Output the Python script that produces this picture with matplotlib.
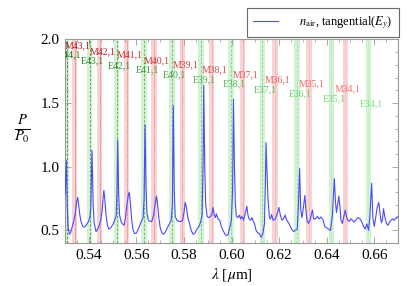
import numpy as np
import matplotlib
matplotlib.use("Agg")
import matplotlib.pyplot as plt
from matplotlib.colors import to_rgb

plt.rcParams["font.family"] = ["Liberation Serif", "DejaVu Serif"]
plt.rcParams["mathtext.fontset"] = "stix"

# spectrum (wavelength in um, P/P0)
wavelength = [
    0.5300, 0.5305, 0.5309, 0.5313, 0.5318, 0.5323, 0.5330, 0.5337, 0.5342, 0.5348,
    0.5353, 0.5357, 0.5362, 0.5368, 0.5375, 0.5382, 0.5390, 0.5398, 0.5404, 0.5408,
    0.5413, 0.5418, 0.5422, 0.5430, 0.5440, 0.5450, 0.5456, 0.5460, 0.5463, 0.5467,
    0.5472, 0.5478, 0.5484, 0.5492, 0.5502, 0.5510, 0.5515, 0.5518, 0.5521, 0.5525,
    0.5529, 0.5536, 0.5542, 0.5548, 0.5554, 0.5560, 0.5566, 0.5570, 0.5575, 0.5580,
    0.5586, 0.5592, 0.5600, 0.5610, 0.5620, 0.5628, 0.5632, 0.5636, 0.5640, 0.5644,
    0.5650, 0.5658, 0.5664, 0.5672, 0.5678, 0.5684, 0.5688, 0.5694, 0.5700, 0.5707,
    0.5714, 0.5722, 0.5730, 0.5738, 0.5746, 0.5751, 0.5755, 0.5759, 0.5763, 0.5770,
    0.5778, 0.5786, 0.5794, 0.5800, 0.5805, 0.5810, 0.5816, 0.5822, 0.5830, 0.5838,
    0.5846, 0.5854, 0.5862, 0.5870, 0.5876, 0.5880, 0.5883, 0.5887, 0.5891, 0.5897,
    0.5904, 0.5912, 0.5917, 0.5922, 0.5927, 0.5932, 0.5936, 0.5943, 0.5950, 0.5957,
    0.5964, 0.5971, 0.5978, 0.5985, 0.5992, 0.5999, 0.6004, 0.6008, 0.6012, 0.6016,
    0.6020, 0.6027, 0.6033, 0.6038, 0.6044, 0.6050, 0.6056, 0.6064, 0.6069, 0.6074,
    0.6080, 0.6086, 0.6091, 0.6096, 0.6103, 0.6110, 0.6117, 0.6124, 0.6131, 0.6138,
    0.6142, 0.6145, 0.6149, 0.6153, 0.6159, 0.6164, 0.6168, 0.6175, 0.6184, 0.6192,
    0.6199, 0.6205, 0.6212, 0.6218, 0.6225, 0.6232, 0.6241, 0.6251, 0.6260, 0.6268,
    0.6276, 0.6281, 0.6286, 0.6291, 0.6296, 0.6302, 0.6308, 0.6313, 0.6317, 0.6323,
    0.6330, 0.6336, 0.6340, 0.6345, 0.6352, 0.6361, 0.6368, 0.6376, 0.6385, 0.6392,
    0.6400, 0.6408, 0.6416, 0.6424, 0.6432, 0.6437, 0.6441, 0.6446, 0.6451, 0.6456,
    0.6460, 0.6466, 0.6472, 0.6478, 0.6483, 0.6488, 0.6495, 0.6502, 0.6508, 0.6515,
    0.6522, 0.6530, 0.6538, 0.6548, 0.6555, 0.6562, 0.6569, 0.6576, 0.6581, 0.6589,
    0.6594, 0.6600, 0.6606, 0.6612, 0.6619, 0.6625, 0.6630, 0.6634, 0.6639, 0.6645,
    0.6651, 0.6658, 0.6665, 0.6676, 0.6684, 0.6693, 0.6700,
]
power = [
    0.78, 1.05, 0.70, 0.52, 0.47, 0.48, 0.53, 0.58, 0.63, 0.72,
    0.76, 0.70, 0.62, 0.56, 0.53, 0.525, 0.545, 0.57, 0.60, 0.68,
    1.13, 0.70, 0.56, 0.49, 0.52, 0.58, 0.66, 0.76, 0.815, 0.74,
    0.62, 0.54, 0.51, 0.52, 0.55, 0.59, 0.62, 0.80, 1.21, 0.80,
    0.62, 0.565, 0.55, 0.54, 0.60, 0.70, 0.78, 0.80, 0.70, 0.58,
    0.50, 0.475, 0.48, 0.52, 0.57, 0.60, 0.75, 1.33, 0.85, 0.64,
    0.58, 0.57, 0.57, 0.62, 0.70, 0.77, 0.72, 0.60, 0.52, 0.48,
    0.47, 0.49, 0.52, 0.55, 0.58, 0.70, 1.48, 0.80, 0.61, 0.58,
    0.57, 0.57, 0.58, 0.64, 0.72, 0.68, 0.60, 0.56, 0.50, 0.47,
    0.48, 0.51, 0.53, 0.565, 0.62, 1.00, 1.64, 1.00, 0.71, 0.61,
    0.60, 0.61, 0.63, 0.68, 0.62, 0.60, 0.63, 0.59, 0.58, 0.53,
    0.50, 0.474, 0.46, 0.465, 0.52, 0.58, 0.80, 1.53, 1.00, 0.70,
    0.61, 0.60, 0.62, 0.59, 0.61, 0.58, 0.62, 0.69, 0.62, 0.59,
    0.58, 0.60, 0.57, 0.555, 0.50, 0.48, 0.475, 0.447, 0.47, 0.55,
    0.85, 1.19, 0.95, 0.75, 0.60, 0.59, 0.625, 0.58, 0.59, 0.63,
    0.68, 0.62, 0.58, 0.59, 0.62, 0.58, 0.555, 0.515, 0.49, 0.50,
    0.51, 0.70, 0.986, 0.66, 0.60, 0.68, 0.775, 0.65, 0.58, 0.555,
    0.58, 0.63, 0.66, 0.59, 0.59, 0.61, 0.59, 0.605, 0.58, 0.53,
    0.52, 0.51, 0.50, 0.62, 0.907, 0.72, 0.64, 0.70, 0.77, 0.68,
    0.58, 0.555, 0.61, 0.66, 0.61, 0.58, 0.57, 0.59, 0.58, 0.565,
    0.58, 0.60, 0.595, 0.565, 0.53, 0.51, 0.55, 0.50, 0.60, 0.87,
    0.60, 0.53, 0.60, 0.68, 0.72, 0.62, 0.56, 0.58, 0.67, 0.60,
    0.555, 0.54, 0.57, 0.59, 0.58, 0.60, 0.61,
]

# E modes (green) and M modes (red)
e_order = [44, 43, 42, 41, 40, 39, 38, 37, 36, 35, 34]
e_pos = [0.5306, 0.5404, 0.5517, 0.5632, 0.5749, 0.5871, 0.5998, 0.6129, 0.6275, 0.6419, 0.6575]
e_label_y = [1.878, 1.831, 1.794, 1.760, 1.720, 1.681, 1.655, 1.608, 1.576, 1.531, 1.498]

m_order = [43, 42, 41, 40, 39, 38, 37, 36, 35, 34]
m_pos = [0.5341, 0.5446, 0.5559, 0.5674, 0.5793, 0.5916, 0.6046, 0.6183, 0.6326, 0.6478]
m_label_y = [1.951, 1.904, 1.878, 1.831, 1.799, 1.760, 1.720, 1.681, 1.650, 1.610]


def shade(c0, c1, n):
    c0, c1 = np.array(to_rgb(c0)), np.array(to_rgb(c1))
    return [tuple(c0 + (c1 - c0) * t) for t in np.linspace(0, 1, n)]


fig = plt.figure(figsize=(4.07, 2.86), dpi=100)
ax = fig.add_axes([0.160, 0.150, 0.818, 0.712])

e_cols = shade("#1f7a1f", "#7ae27a", len(e_pos))
m_cols = shade("#b01c1c", "#ff7070", len(m_pos))
e_lines = shade("#3a8a3a", "#bdf0bd", len(e_pos))
m_lines = shade("#d04040", "#f6b0b0", len(m_pos))

for n, x, y, c, lc in zip(e_order, e_pos, e_label_y, e_cols, e_lines):
    ax.axvspan(x - 0.0011, x + 0.0011, color="#d2f3d2", lw=0, zorder=0)
    ax.axvline(x, color=lc, ls=(0, (3, 2)), lw=0.6, zorder=1)
    ax.text(x + 0.0012, y, "E%d,1" % n, color=c, fontsize=7, ha="center",
            va="center", clip_on=True)

for n, x, y, c, lc in zip(m_order, m_pos, m_label_y, m_cols, m_lines):
    ax.axvspan(x - 0.0011, x + 0.0011, color="#f9d4d4", lw=0, zorder=0)
    ax.axvline(x, color=lc, ls=(0, (1, 1.2)), lw=0.6, zorder=1)
    ax.text(x + 0.0012, y, "M%d,1" % n, color=c, fontsize=7, ha="center",
            va="center", clip_on=True)

ax.plot(wavelength, power, color="#4a4aff", lw=0.8, zorder=3,
        label=r"$n_\mathrm{air}$, tangential($E_y$)")

ax.set_xlim(0.53, 0.67)
ax.set_ylim(0.4, 2.0)
ax.set_xticks([0.54, 0.56, 0.58, 0.60, 0.62, 0.64, 0.66])
ax.set_xticklabels(["0.54", "0.56", "0.58", "0.60", "0.62", "0.64", "0.66"])
ax.set_yticks([0.5, 1.0, 1.5, 2.0])
ax.set_yticklabels(["0.5", "1.0", "1.5", "2.0"])
ax.set_xticks(np.arange(0.53, 0.6701, 0.005), minor=True)
ax.set_yticks(np.arange(0.4, 2.001, 0.1), minor=True)
ax.tick_params(which="both", direction="in", top=True, right=True,
               color="#999999", labelsize=11, pad=4)
ax.tick_params(which="major", length=4, width=0.6)
ax.tick_params(which="minor", length=2, width=0.5)
for s in ax.spines.values():
    s.set_color("#999999")
    s.set_linewidth(0.8)

ax.set_xlabel(r"$\lambda$ [$\mu$m]", fontsize=11, labelpad=3)
fig.text(22 / 407, 1 - 130 / 286, r"$\frac{P}{P_0}$", fontsize=15,
         ha="center", va="center")

leg = ax.legend(loc="lower right", bbox_to_anchor=(1.003, 1.012), fontsize=9,
                frameon=True, fancybox=False, handlelength=2.0,
                handletextpad=1.7, borderpad=0.5, borderaxespad=0)
leg.get_frame().set_edgecolor("#444444")
leg.get_frame().set_linewidth(0.8)

fig.savefig("out.png", dpi=100)
